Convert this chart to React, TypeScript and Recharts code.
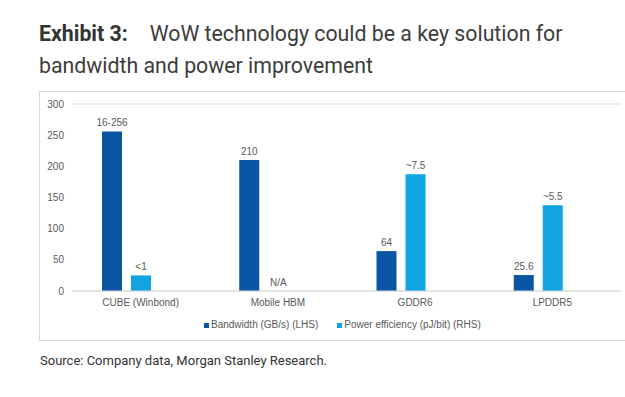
import React from "react";
import {
  BarChart,
  Bar,
  Cell,
  XAxis,
  YAxis,
  CartesianGrid,
  Legend,
  LabelList,
} from "recharts";

// memory technologies compared in the exhibit
const categories = ["CUBE (Winbond)", "Mobile HBM", "GDDR6", "LPDDR5"];
// bandwidth in GB/s (left axis)
const bandwidth = [256, 210, 64, 25.6];
const bandwidthLabels = ["16-256", "210", "64", "25.6"];
// power efficiency in pJ/bit (right axis, hidden); Mobile HBM is N/A
const powerEfficiency = [1, 0, 7.5, 5.5];
const powerLabels = ["<1", "N/A", "~7.5", "~5.5"];
const leftTicks = [0, 50, 100, 150, 200, 250, 300];

const DARK = "#0A56A4";
const LIGHT = "#12A4E2";
const AXIS_TEXT = "#595959";
const GRID = "#d9d9d9";
const CHART_FONT = "'Liberation Sans', Arial, sans-serif";

const data = categories.map((name, i) => ({
  name,
  bandwidth: bandwidth[i],
  power: powerEfficiency[i],
  bwLabel: bandwidthLabels[i],
  pwLabel: powerLabels[i],
}));

function ChartLegend() {
  const item = (color: string, text: string, gap: number) => (
    <span style={{ display: "flex", alignItems: "center", marginRight: gap }}>
      <span
        style={{
          display: "inline-block",
          width: 5,
          height: 5,
          background: color,
          marginRight: 2,
        }}
      />
      {text}
    </span>
  );
  return (
    <div
      style={{
        display: "flex",
        paddingLeft: 165,
        fontFamily: CHART_FONT,
        fontSize: 10,
        color: AXIS_TEXT,
        lineHeight: "12px",
      }}
    >
      {item(DARK, "Bandwidth (GB/s) (LHS)", 19)}
      {item(LIGHT, "Power efficiency (pJ/bit) (RHS)", 0)}
    </div>
  );
}

export default function App() {
  return (
    <div
      style={{
        position: "absolute",
        left: 0,
        top: 0,
        width: 625,
        height: 397,
        overflow: "hidden",
        background: "#fff",
        fontFamily: "Roboto, sans-serif",
      }}
    >
      <div
        style={{
          position: "absolute",
          left: 39,
          top: 18,
          fontSize: 21.3,
          lineHeight: "32px",
          color: "#3c3c3c",
          width: 585,
        }}
      >
        <span style={{ fontWeight: 700, color: "#333" }}>Exhibit 3:</span>
        <span style={{ marginLeft: 22 }}>
          WoW technology could be a key solution for
        </span>
        <br />
        bandwidth and power improvement
      </div>

      <div
        style={{
          position: "absolute",
          left: 39,
          top: 91,
          width: 620,
          height: 248,
          border: `1px solid ${GRID}`,
        }}
      />

      <div style={{ position: "absolute", left: 39, top: 91 }}>
        <BarChart
          width={586}
          height={249}
          data={data}
          margin={{ top: 13, right: 4, bottom: 9, left: 0 }}
          barGap={9}
          barSize={20}
        >
          <CartesianGrid vertical={false} stroke={GRID} />
          <XAxis
            dataKey="name"
            tickLine={false}
            axisLine={{ stroke: GRID }}
            height={28}
            tick={{ fill: AXIS_TEXT, fontSize: 10, fontFamily: CHART_FONT }}
          />
          <YAxis
            yAxisId="left"
            width={33}
            domain={[0, 300]}
            ticks={leftTicks}
            tickLine={false}
            axisLine={false}
            tick={{ fill: AXIS_TEXT, fontSize: 10, fontFamily: CHART_FONT }}
          />
          <YAxis yAxisId="right" orientation="right" hide domain={[0, 12]} />
          <Legend
            verticalAlign="bottom"
            wrapperStyle={{ left: 0, width: 586 }}
            content={() => <ChartLegend />}
          />
          <Bar
            yAxisId="left"
            dataKey="bandwidth"
            fill={DARK}
            isAnimationActive={false}
          >
            <LabelList
              dataKey="bwLabel"
              position="top"
              offset={5}
              fill={AXIS_TEXT}
              fontSize={10}
              fontFamily={CHART_FONT}
            />
          </Bar>
          <Bar
            yAxisId="right"
            dataKey="power"
            fill={LIGHT}
            minPointSize={(v: number) => (v === 0 ? 0.01 : 0)}
            isAnimationActive={false}
          >
            {data.map((d) => (
              <Cell key={d.name} fill={d.power === 0 ? "none" : LIGHT} />
            ))}
            <LabelList
              dataKey="pwLabel"
              position="top"
              offset={5}
              fill={AXIS_TEXT}
              fontSize={10}
              fontFamily={CHART_FONT}
            />
          </Bar>
          {/* empty third series in the source chart, keeps the bars off-centre */}
          <Bar
            yAxisId="left"
            dataKey="spacer"
            fill="none"
            legendType="none"
            isAnimationActive={false}
          />
        </BarChart>
      </div>

      <div
        style={{
          position: "absolute",
          left: 40,
          top: 353,
          fontSize: 13,
          color: "#333",
        }}
      >
        Source: Company data, Morgan Stanley Research.
      </div>
    </div>
  );
}
